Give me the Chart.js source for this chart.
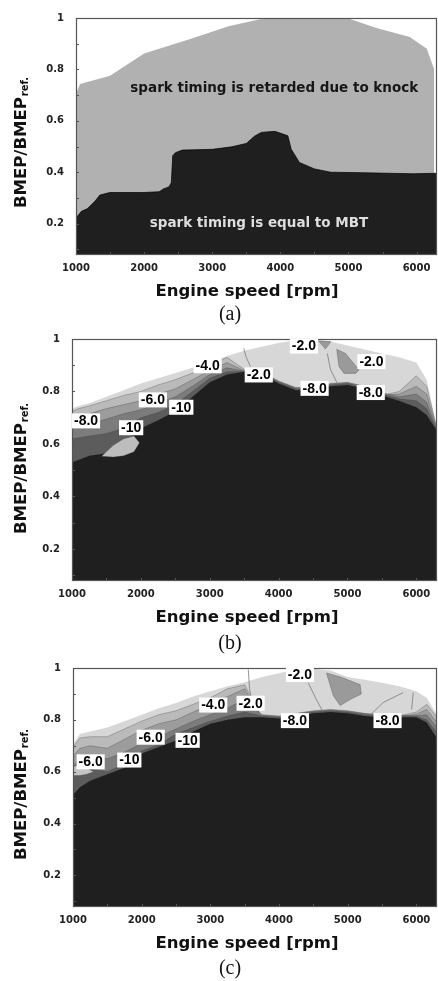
<!DOCTYPE html>
<html>
<head>
<meta charset="utf-8">
<title>Spark timing maps</title>
<script src="https://cdn.jsdelivr.net/npm/chart.js@4.4.1/dist/chart.umd.min.js"></script>
<style>
  html, body { margin: 0; padding: 0; background: #fff; }
  body { position: relative; width: 438px; height: 981px; overflow: hidden; }
  canvas { position: absolute; left: 0; }
  .cap { position: absolute; left: 0; width: 460px; text-align: center; font-family: "Liberation Serif", serif; font-size: 20px; line-height: 20px; color: #111; }
</style>
</head>
<body>
<canvas id="chartA" width="438" height="320" style="top:0"></canvas>
<div class="cap" style="top:303px">(a)</div>
<canvas id="chartB" width="438" height="330" style="top:320px"></canvas>
<div class="cap" style="top:632px">(b)</div>
<canvas id="chartC" width="438" height="331" style="top:650px"></canvas>
<div class="cap" style="top:957px">(c)</div>
<script>
// axes
const xTickValues = [1000, 1500, 2000, 2500, 3000, 3500, 4000, 4500, 5000, 5500, 6000];
const xLabelValues = [1000, 2000, 3000, 4000, 5000, 6000];
const yTickValues = [0.1, 0.2, 0.3, 0.4, 0.5, 0.6, 0.7, 0.8, 0.9, 1.0];
const yLabelValues = [0.2, 0.4, 0.6, 0.8, 1.0];

// (a) knock limit (max load) and MBT limit
const aKnockRpm = [1000, 1060, 1500, 2000, 2700, 3240, 3700, 4200, 5000, 5400, 5900, 6150, 6260];
const aKnockLoad = [0.705, 0.743, 0.775, 0.862, 0.92, 0.968, 0.995, 1.0, 0.998, 0.962, 0.926, 0.88, 0.80];
const aMbtRpm = [1000, 1080, 1165, 1275, 1350, 1495, 1980, 2220, 2290, 2365, 2400, 2420, 2460, 2560, 3000, 3290, 3500, 3620, 3720, 3920, 4110, 4160, 4280, 4500, 4740, 5220, 5950, 6300];
const aMbtLoad = [0.222, 0.248, 0.258, 0.286, 0.311, 0.321, 0.321, 0.324, 0.336, 0.343, 0.36, 0.464, 0.476, 0.486, 0.489, 0.499, 0.512, 0.54, 0.555, 0.559, 0.542, 0.489, 0.438, 0.413, 0.40, 0.398, 0.394, 0.396];

// (b), (c) contour boundaries on a common rpm grid
const gridRpm = [1000, 1100, 1250, 1500, 1750, 2000, 2250, 2500, 2750, 3000, 3250, 3500, 3750, 4000, 4250, 4500, 4750, 5000, 5250, 5500, 5750, 6000, 6150, 6300];

const bEnv  = [0.735, 0.745, 0.755, 0.78, 0.805, 0.83, 0.85, 0.87, 0.89, 0.91, 0.935, 0.955, 0.97, 0.985, 0.995, 1.0, 0.99, 0.975, 0.96, 0.945, 0.93, 0.91, 0.845, 0.66];
const bL1   = [0.725, 0.735, 0.745, 0.765, 0.785, 0.80, 0.825, 0.845, 0.87, 0.90, 0.93, 0.885, 0.865, 0.83, 0.805, 0.805, 0.82, 0.825, 0.81, 0.785, 0.80, 0.86, 0.82, 0.658];
const bL2   = [0.70, 0.705, 0.715, 0.735, 0.75, 0.765, 0.79, 0.81, 0.845, 0.88, 0.91, 0.88, 0.865, 0.83, 0.805, 0.805, 0.82, 0.825, 0.81, 0.785, 0.79, 0.82, 0.79, 0.656];
const bL3   = [0.665, 0.668, 0.675, 0.695, 0.715, 0.73, 0.755, 0.78, 0.82, 0.865, 0.89, 0.878, 0.875, 0.84, 0.815, 0.815, 0.83, 0.835, 0.82, 0.795, 0.78, 0.79, 0.76, 0.654];
const bL4   = [0.62, 0.624, 0.63, 0.64, 0.66, 0.70, 0.72, 0.75, 0.80, 0.85, 0.875, 0.876, 0.87, 0.835, 0.81, 0.81, 0.825, 0.83, 0.815, 0.79, 0.772, 0.765, 0.735, 0.652];
const bCore = [0.53, 0.54, 0.555, 0.565, 0.60, 0.66, 0.69, 0.725, 0.78, 0.835, 0.865, 0.875, 0.865, 0.83, 0.805, 0.805, 0.82, 0.825, 0.81, 0.785, 0.765, 0.74, 0.71, 0.65];

const cEnv  = [0.705, 0.745, 0.755, 0.77, 0.795, 0.82, 0.845, 0.865, 0.89, 0.91, 0.93, 0.945, 0.965, 0.98, 0.995, 0.997, 0.99, 0.965, 0.955, 0.943, 0.93, 0.91, 0.885, 0.82];
const cL1   = [0.695, 0.73, 0.735, 0.735, 0.765, 0.795, 0.82, 0.835, 0.86, 0.885, 0.92, 0.935, 0.81, 0.805, 0.815, 0.825, 0.83, 0.825, 0.815, 0.81, 0.815, 0.83, 0.86, 0.81];
const cL2   = [0.66, 0.69, 0.70, 0.69, 0.725, 0.76, 0.785, 0.80, 0.83, 0.86, 0.89, 0.92, 0.81, 0.805, 0.815, 0.825, 0.83, 0.825, 0.815, 0.81, 0.812, 0.822, 0.84, 0.79];
const cL3   = [0.62, 0.65, 0.655, 0.65, 0.675, 0.71, 0.735, 0.765, 0.795, 0.82, 0.845, 0.88, 0.82, 0.815, 0.825, 0.835, 0.84, 0.835, 0.825, 0.82, 0.818, 0.816, 0.82, 0.77];
const cL4   = [0.58, 0.60, 0.61, 0.60, 0.63, 0.68, 0.705, 0.745, 0.77, 0.795, 0.815, 0.83, 0.815, 0.81, 0.82, 0.83, 0.835, 0.83, 0.82, 0.815, 0.814, 0.813, 0.80, 0.75];
const cCore = [0.51, 0.54, 0.565, 0.59, 0.615, 0.67, 0.695, 0.72, 0.755, 0.785, 0.80, 0.81, 0.81, 0.805, 0.815, 0.825, 0.83, 0.825, 0.815, 0.81, 0.81, 0.81, 0.79, 0.73];

// small islands inside the maps (top edge / bottom edge)
const bBlobTopRpm = [1430, 1600, 1750, 1900, 1980];
const bBlobTop = [0.553, 0.595, 0.62, 0.63, 0.605];
const bBlobBotRpm = [1430, 1600, 1750, 1900, 1980];
const bBlobBot = [0.553, 0.55, 0.555, 0.57, 0.605];
const bCoreBlobTopRpm = [1550, 1650, 1800, 1880];
const bCoreBlobTop = [0.57, 0.595, 0.612, 0.60];
const bCoreBlobBotRpm = [1550, 1650, 1800, 1880];
const bCoreBlobBot = [0.57, 0.568, 0.58, 0.60];
const bIslandTopRpm = [4843, 4974, 5168];
const bIslandTop = [0.961, 0.945, 0.882];
const bIslandBotRpm = [4843, 4876, 4949, 5120, 5168];
const bIslandBot = [0.961, 0.895, 0.869, 0.869, 0.882];
const bIsland2TopRpm = [4580, 4760];
const bIsland2Top = [0.992, 0.99];
const bIsland2BotRpm = [4580, 4680, 4760];
const bIsland2Bot = [0.992, 0.962, 0.99];

const cIslandTopRpm = [4690, 4900, 5180, 5200];
const cIslandTop = [0.981, 0.965, 0.936, 0.90];
const cIslandBotRpm = [4690, 4790, 4890, 5050, 5200];
const cIslandBot = [0.981, 0.893, 0.855, 0.88, 0.90];
const cLeftTopRpm = [1000, 1100, 1200, 1300];
const cLeftTop = [0.62, 0.625, 0.615, 0.60];
const cLeftBotRpm = [1000, 1100, 1200, 1300];
const cLeftBot = [0.585, 0.585, 0.59, 0.60];

// thin iso-lines inside the -2 region
const bIso1Rpm = [3494, 3530, 3591];
const bIso1 = [0.964, 0.93, 0.895];
const bIso2Rpm = [4707, 4755, 4853];
const bIso2 = [0.945, 0.882, 0.831];
const cIso1Rpm = [3552, 3570, 3625];
const cIso1 = [0.994, 0.92, 0.841];
const cIso2Rpm = [4425, 4540, 4644];
const cIso2 = [0.943, 0.88, 0.829];
const cIso3Rpm = [5808, 5517, 5323];
const cIso3 = [0.905, 0.867, 0.817];
const cIso4Rpm = [5954, 5930];
const cIso4 = [0.905, 0.84];

// contour level labels
const bLabelText = ['-2.0', '-2.0', '-4.0', '-2.0', '-8.0', '-8.0', '-6.0', '-10', '-8.0', '-10'];
const bLabelRpm  = [4367, 5348, 2970, 3712, 4523, 5338, 2174, 2587, 1204, 1859];
const bLabelLoad = [0.973, 0.914, 0.898, 0.863, 0.812, 0.796, 0.768, 0.74, 0.688, 0.662];
const cLabelText = ['-2.0', '-4.0', '-2.0', '-8.0', '-8.0', '-6.0', '-10', '-6.0', '-10'];
const cLabelRpm  = [4304, 3042, 3586, 4231, 5580, 2131, 2669, 1257, 1820];
const cLabelLoad = [0.975, 0.857, 0.864, 0.797, 0.797, 0.733, 0.721, 0.638, 0.645];

const bandColors = ['#d7d7d7', '#bababa', '#9c9c9c', '#7c7c7c', '#5c5c5c', '#1f1f1f'];

function pts(xs, ys) {
  return xs.map((x, i) => ({ x: x, y: ys[i] }));
}

function area(xs, ys, color, order, edge) {
  return {
    data: pts(xs, ys), fill: 'start', backgroundColor: color,
    borderColor: edge || 'rgba(0,0,0,0)', borderWidth: edge ? 0.7 : 0,
    pointRadius: 0, tension: 0, order: order
  };
}

// two consecutive datasets, the second fills up to the first
function island(tx, ty, bx, by, color) {
  return [
    { data: pts(tx, ty), fill: false, borderColor: 'rgba(60,60,60,0.5)', borderWidth: 0.6, pointRadius: 0, tension: 0, order: 3 },
    { data: pts(bx, by), fill: '-1', backgroundColor: color, borderColor: 'rgba(60,60,60,0.5)', borderWidth: 0.6, pointRadius: 0, tension: 0, order: 3 }
  ];
}

function iso(xs, ys) {
  return { data: pts(xs, ys), fill: false, borderColor: '#7a7a7a', borderWidth: 0.8, pointRadius: 0, tension: 0, order: 2 };
}

function bands(levels) {
  const edge = 'rgba(60,60,60,0.45)';
  return levels.map((lv, i) => area(gridRpm, lv, bandColors[i], 10 - i, i > 0 && i < 5 ? edge : null));
}

function decor(cfg) {
  return {
    id: 'decor',
    afterDatasetsDraw(chart) {
      const ctx = chart.ctx, a = chart.chartArea;
      const xs = chart.scales.x, ys = chart.scales.y;
      ctx.save();
      // frame and inward ticks
      ctx.strokeStyle = '#555';
      ctx.lineWidth = 1.2;
      ctx.strokeRect(a.left + 0.5, a.top + 0.5, a.right - a.left - 1, a.bottom - a.top - 1);
      ctx.lineWidth = 1;
      yTickValues.forEach(v => {
        const p = Math.round(ys.getPixelForValue(v)) + 0.5;
        ctx.beginPath(); ctx.moveTo(a.left, p); ctx.lineTo(a.left + 3, p); ctx.stroke();
      });
      xTickValues.forEach(v => {
        const p = Math.round(xs.getPixelForValue(v)) + 0.5;
        ctx.beginPath(); ctx.moveTo(p, a.bottom); ctx.lineTo(p, a.bottom - 3); ctx.stroke();
      });
      // contour labels
      if (cfg.labels) {
        ctx.font = 'bold 14px "Liberation Sans", Arial, sans-serif';
        ctx.textAlign = 'center';
        ctx.textBaseline = 'middle';
        cfg.labels.text.forEach((t, i) => {
          const px = xs.getPixelForValue(cfg.labels.rpm[i]);
          const py = ys.getPixelForValue(cfg.labels.load[i]);
          const w = ctx.measureText(t).width;
          ctx.fillStyle = '#fff';
          ctx.fillRect(px - w / 2 - 2, py - 7.5, w + 4, 15);
          ctx.fillStyle = '#000';
          ctx.fillText(t, px, py + 0.5);
        });
      }
      // region notes
      if (cfg.notes) {
        ctx.font = 'bold 13.5px "DejaVu Sans", sans-serif';
        ctx.textAlign = 'center';
        ctx.textBaseline = 'middle';
        cfg.notes.forEach(n => {
          ctx.fillStyle = n.color;
          ctx.fillText(n.text, xs.getPixelForValue(n.rpm), ys.getPixelForValue(n.load));
        });
      }
      // axis titles
      ctx.fillStyle = '#111';
      ctx.textAlign = 'center';
      ctx.textBaseline = 'alphabetic';
      ctx.font = 'bold 16.5px "DejaVu Sans", sans-serif';
      ctx.fillText('Engine speed [rpm]', 247, a.bottom + 41);
      ctx.translate(26, a.bottom - 47);
      ctx.rotate(-Math.PI / 2);
      ctx.textAlign = 'left';
      ctx.fillText('BMEP/BMEP', 0, 0);
      const w = ctx.measureText('BMEP/BMEP').width;
      ctx.font = 'bold 10px "DejaVu Sans", sans-serif';
      ctx.fillText('ref.', w + 1, 2);
      ctx.restore();
    }
  };
}

const tickFont = { family: '"DejaVu Sans", sans-serif', size: 10, weight: 'bold' };

function makeChart(id, datasets, box, cfg) {
  new Chart(document.getElementById(id), {
    type: 'line',
    data: { datasets: datasets },
    options: {
      responsive: false,
      animation: false,
      events: [],
      layout: { padding: { top: box.top, right: 1, bottom: 0, left: 0 } },
      plugins: { legend: { display: false }, tooltip: { enabled: false } },
      scales: {
        x: {
          type: 'linear', min: 1000, max: 6300,
          grid: { display: false, drawTicks: false },
          border: { display: false },
          afterBuildTicks: s => { s.ticks = xTickValues.map(v => ({ value: v })); },
          afterFit: s => { s.height = box.gap; },
          ticks: {
            padding: 7, font: tickFont, color: '#222', autoSkip: false, maxRotation: 0,
            callback: v => xLabelValues.includes(v) ? String(v) : ''
          }
        },
        y: {
          type: 'linear', min: 0.078, max: 1,
          grid: { display: false, drawTicks: false },
          border: { display: false },
          afterBuildTicks: s => { s.ticks = yTickValues.map(v => ({ value: v })); },
          afterFit: s => { s.width = box.left; },
          ticks: {
            padding: 12, font: tickFont, color: '#222',
            callback: v => yLabelValues.some(l => Math.abs(l - v) < 1e-6) ? (v > 0.99 ? '1' : v.toFixed(1)) : ''
          }
        }
      }
    },
    plugins: [decor(cfg)]
  });
}

// (a)
makeChart('chartA', [
  area(aKnockRpm, aKnockLoad, '#b1b1b1', 10),
  area(aMbtRpm, aMbtLoad, '#1f1f1f', 5, '#000')
], { top: 12.5, gap: 65, left: 76 }, {
  notes: [
    { text: 'spark timing is retarded due to knock', rpm: 3911, load: 0.724, color: '#161616' },
    { text: 'spark timing is equal to MBT', rpm: 3686, load: 0.202, color: '#dedede' }
  ]
});

// (b)
makeChart('chartB', [].concat(
  bands([bEnv, bL1, bL2, bL3, bL4, bCore]),
  island(bBlobTopRpm, bBlobTop, bBlobBotRpm, bBlobBot, '#bdbdbd'),
  island(bCoreBlobTopRpm, bCoreBlobTop, bCoreBlobBotRpm, bCoreBlobBot, '#ececec'),
  island(bIslandTopRpm, bIslandTop, bIslandBotRpm, bIslandBot, '#9a9a9a'),
  island(bIsland2TopRpm, bIsland2Top, bIsland2BotRpm, bIsland2Bot, '#9a9a9a'),
  [iso(bIso1Rpm, bIso1), iso(bIso2Rpm, bIso2)]
), { top: 19, gap: 69, left: 72 }, {
  labels: { text: bLabelText, rpm: bLabelRpm, load: bLabelLoad }
});

// (c)
makeChart('chartC', [].concat(
  bands([cEnv, cL1, cL2, cL3, cL4, cCore]),
  island(cLeftTopRpm, cLeftTop, cLeftBotRpm, cLeftBot, '#c4c4c4'),
  island(cIslandTopRpm, cIslandTop, cIslandBotRpm, cIslandBot, '#9a9a9a'),
  [iso(cIso1Rpm, cIso1), iso(cIso2Rpm, cIso2), iso(cIso3Rpm, cIso3), iso(cIso4Rpm, cIso4)]
), { top: 15, gap: 74, left: 73 }, {
  labels: { text: cLabelText, rpm: cLabelRpm, load: cLabelLoad }
});
</script>
</body>
</html>
